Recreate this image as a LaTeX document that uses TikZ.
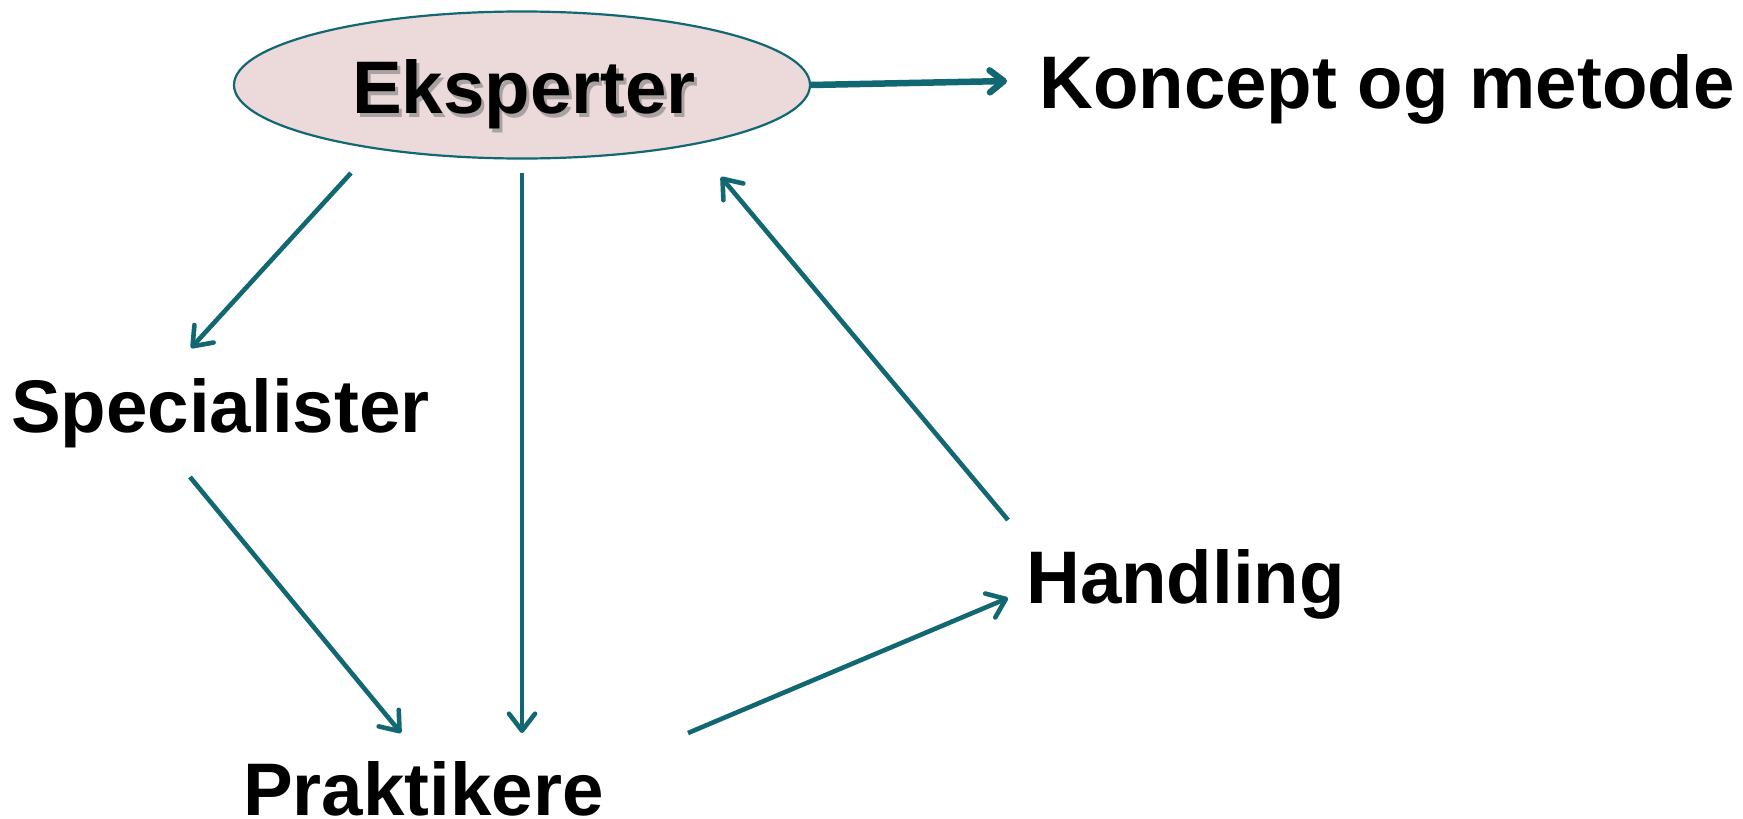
\documentclass[tikz,border=0pt]{standalone}
\usepackage{fontspec}
\setmainfont{Liberation Sans}
\usetikzlibrary{arrows.meta,shapes.geometric}
\definecolor{teal}{RGB}{17,103,114}
\definecolor{pinkfill}{RGB}{236,217,217}
\begin{document}
\begin{tikzpicture}[x=1pt,y=-1pt,
  lbl/.style={font=\fontsize{74.5}{80}\selectfont\bfseries, inner sep=0pt, anchor=base west},
  conn/.style={draw=teal, line width=4.6pt, -{Straight Barb[length=17pt,width=26pt,line cap=round,line join=round]}},
  thickconn/.style={draw=teal, line width=6.5pt, -{Straight Barb[length=14pt,width=22pt,line cap=round,line join=round]}},
  bubble/.style={ellipse, draw=teal, line width=2.2pt, fill=pinkfill, minimum width=576pt, minimum height=147pt, inner sep=0pt}]
\useasboundingbox (0,0) rectangle (1743,819);
\fill[white] (0,0) rectangle (1743,819);
% expert ellipse
\node[bubble] (eks) at (522,85) {};
\node[lbl, anchor=base, text=black!45, opacity=0.7] (eksshadow) at (527,117) {Eksperter};
\node[lbl, anchor=base] (eksp) at (524,113) {Eksperter};
% labels
\node[lbl] (koncept) at (1039,108) {Koncept og metode};
\node[lbl] (spec) at (11,432) {Specialister};
\node[lbl] (hand) at (1026,603) {Handling};
\node[lbl] (prak) at (243,815) {Praktikere};
% connector end points
\coordinate (a1) at (351,173);
\coordinate (a2) at (191,348);
\coordinate (b1) at (522,173);
\coordinate (b2) at (522,733);
\coordinate (c1) at (190,477);
\coordinate (c2) at (401,733);
\coordinate (d1) at (688,733);
\coordinate (d2) at (1008,598);
\coordinate (e1) at (1008,520);
\coordinate (e2) at (721,177);
\coordinate (f2) at (1007,81);
% connectors
\draw[conn] (a1) -- (a2);
\draw[conn] (b1) -- (b2);
\draw[conn] (c1) -- (c2);
\draw[conn] (d1) -- (d2);
\draw[conn] (e1) -- (e2);
\draw[thickconn] (eks.east) -- (f2);
\end{tikzpicture}
\end{document}
